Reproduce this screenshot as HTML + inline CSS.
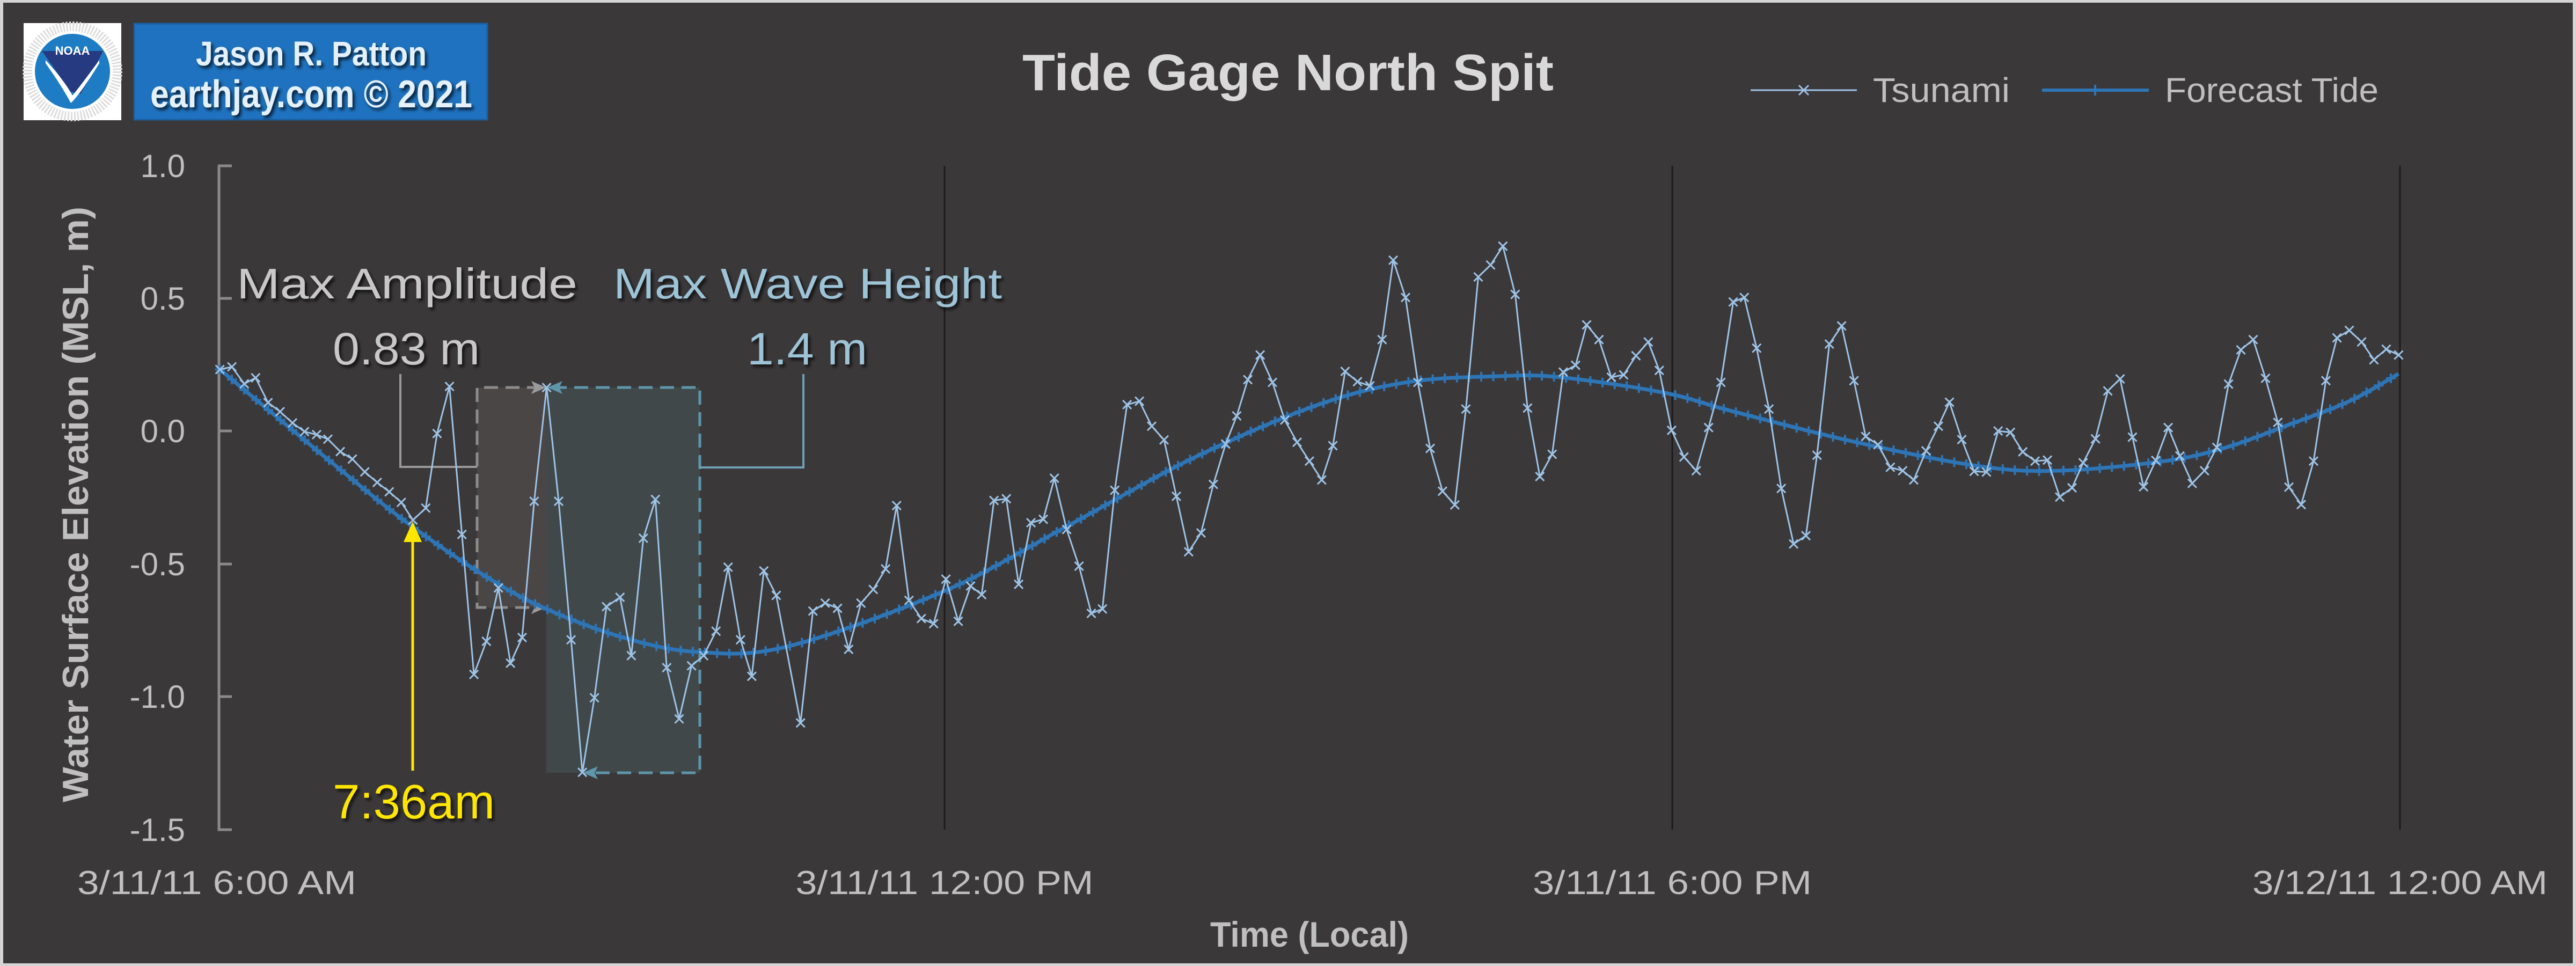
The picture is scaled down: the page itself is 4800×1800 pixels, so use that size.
<!DOCTYPE html>
<html><head><meta charset="utf-8"><style>
html,body{margin:0;padding:0;background:#3b3839;}
svg{display:block;}
text{font-family:"Liberation Sans",sans-serif;}
</style></head><body>
<svg id="s" width="4800" height="1800" viewBox="0 0 4800 1800" xmlns="http://www.w3.org/2000/svg">
<defs>
<filter id="sh" x="-10%" y="-10%" width="130%" height="140%"><feDropShadow dx="4" dy="5" stdDeviation="3" flood-color="#000" flood-opacity="0.7"/></filter>
</defs>
<rect x="0" y="0" width="4800" height="1800" fill="#d4d4d4"/>
<rect x="6" y="5" width="4788" height="1790" fill="#3b3839"/>

<!-- NOAA logo -->
<rect x="44" y="43" width="182" height="181" fill="#ffffff"/>
<circle cx="135" cy="133" r="70" fill="#1d7cc4"/>
<path d="M78 95 L192 95 L165 150 L150 175 L128 170 L110 140 Z" fill="#253a80"/>
<path d="M85 112 Q120 150 135 178 Q150 160 185 112 L185 118 Q150 175 132 192 Q115 160 85 118 Z" fill="#fff"/>
<text x="135" y="102" font-size="22" font-weight="bold" fill="#fff" text-anchor="middle">NOAA</text>
<circle cx="135" cy="133" r="84" fill="none" stroke="#ddd" stroke-width="18" stroke-dasharray="3 3"/>

<!-- Name box -->
<rect x="250" y="44" width="658" height="179" fill="#1e72bf" stroke="#1a5fa0" stroke-width="3"/>
<text x="580" y="122" font-size="64" font-weight="bold" fill="#e4f0fa" text-anchor="middle" textLength="430" lengthAdjust="spacingAndGlyphs" filter="url(#sh)">Jason R. Patton</text>
<text x="580" y="200" font-size="72" font-weight="bold" fill="#e4f0fa" text-anchor="middle" textLength="600" lengthAdjust="spacingAndGlyphs" filter="url(#sh)">earthjay.com © 2021</text>

<!-- Title -->
<text x="2400" y="168" font-size="96" font-weight="bold" fill="#d9d9d9" text-anchor="middle" textLength="990" lengthAdjust="spacingAndGlyphs">Tide Gage North Spit</text>

<!-- Legend -->
<line x1="3262" y1="168" x2="3460" y2="168" stroke="#9dc3e6" stroke-width="3"/>
<path d="M3352 159 L3370 177 M3370 159 L3352 177" stroke="#9dc3e6" stroke-width="3"/>
<text x="3490" y="190" font-size="64" fill="#bfbfbf" textLength="255" lengthAdjust="spacingAndGlyphs">Tsunami</text>
<line x1="3805" y1="168" x2="4004" y2="168" stroke="#2e75b6" stroke-width="6"/>
<path d="M3904 158 L3904 178 M3894 168 L3914 168" stroke="#2e75b6" stroke-width="4"/>
<text x="4034" y="190" font-size="64" fill="#bfbfbf" textLength="398" lengthAdjust="spacingAndGlyphs">Forecast Tide</text>

<!-- gridlines -->
<g stroke="#1c1a1a" stroke-width="3">
<line x1="1760" y1="309" x2="1760" y2="1546"/>
<line x1="3116" y1="309" x2="3116" y2="1546"/>
<line x1="4472" y1="309" x2="4472" y2="1546"/>
</g>
<!-- y axis -->
<g stroke="#8a8a8a" stroke-width="5">
<line x1="408" y1="309" x2="408" y2="1548"/>
<line x1="406" y1="309" x2="432" y2="309"/>
<line x1="406" y1="556" x2="432" y2="556"/>
<line x1="406" y1="803" x2="432" y2="803"/>
<line x1="406" y1="1051" x2="432" y2="1051"/>
<line x1="406" y1="1298" x2="432" y2="1298"/>
<line x1="406" y1="1546" x2="432" y2="1546"/>
</g>
<g font-size="60" fill="#bfbfbf" text-anchor="end">
<text x="345" y="330">1.0</text>
<text x="345" y="577">0.5</text>
<text x="345" y="824">0.0</text>
<text x="345" y="1072">-0.5</text>
<text x="345" y="1319">-1.0</text>
<text x="345" y="1567">-1.5</text>
</g>
<g font-size="62" fill="#bfbfbf" text-anchor="middle">
<text x="404" y="1666" textLength="520" lengthAdjust="spacingAndGlyphs">3/11/11 6:00 AM</text>
<text x="1760" y="1666" textLength="555" lengthAdjust="spacingAndGlyphs">3/11/11 12:00 PM</text>
<text x="3116" y="1666" textLength="520" lengthAdjust="spacingAndGlyphs">3/11/11 6:00 PM</text>
<text x="4472" y="1666" textLength="550" lengthAdjust="spacingAndGlyphs">3/12/11 12:00 AM</text>
</g>
<text x="2440" y="1764" font-size="66" font-weight="bold" fill="#bfbfbf" text-anchor="middle" textLength="370" lengthAdjust="spacingAndGlyphs">Time (Local)</text>
<text transform="translate(164,940) rotate(-90)" font-size="68" font-weight="bold" fill="#bfbfbf" text-anchor="middle" textLength="1110" lengthAdjust="spacingAndGlyphs">Water Surface Elevation (MSL, m)</text>

<!-- annotation boxes -->
<rect x="889" y="722" width="129" height="410" fill="#4d4848" opacity="0.9"/>
<rect x="1018" y="722" width="286" height="718" fill="#434a4d" opacity="0.9"/>
<path d="M1008 722 L889 722 L889 1132 L1008 1132" fill="none" stroke="#8c8c8c" stroke-width="5" stroke-dasharray="26 14"/>
<path d="M1030 722 L1304 722 L1304 1440 L1090 1440" fill="none" stroke="#5e96aa" stroke-width="5" stroke-dasharray="26 14"/>
<path d="M1018 722 L990 710 L996 722 L990 734 Z" fill="#9a9a9a"/>
<path d="M1018 1132 L990 1120 L996 1132 L990 1144 Z" fill="#9a9a9a"/>
<path d="M1020 722 L1048 710 L1042 722 L1048 734 Z" fill="#5e96aa"/>
<path d="M1086 1440 L1114 1428 L1108 1440 L1114 1452 Z" fill="#5e96aa"/>
<path d="M746 697 L746 870 L889 870" fill="none" stroke="#9a9a9a" stroke-width="4"/>
<path d="M1304 871 L1497 871 L1497 697" fill="none" stroke="#6fa0b5" stroke-width="4"/>

<g id="series"></g>

<!-- yellow arrow -->
<line x1="769" y1="1436" x2="769" y2="1000" stroke="#ffe600" stroke-width="5"/>
<path d="M769 972 L752 1010 L786 1010 Z" fill="#ffe600"/>

<!-- annotation text -->
<text x="441" y="556" font-size="80" fill="#c8c8c8" textLength="635" lengthAdjust="spacingAndGlyphs" filter="url(#sh)">Max Amplitude</text>
<text x="1143" y="556" font-size="80" fill="#9dc3d7" textLength="724" lengthAdjust="spacingAndGlyphs" filter="url(#sh)">Max Wave Height</text>
<text x="620" y="679" font-size="84" fill="#c8c8c8" textLength="274" lengthAdjust="spacingAndGlyphs" filter="url(#sh)">0.83 m</text>
<text x="1392" y="679" font-size="84" fill="#9dc3d7" textLength="224" lengthAdjust="spacingAndGlyphs" filter="url(#sh)">1.4 m</text>
<text x="620" y="1525" font-size="90" fill="#ffe600" textLength="302" lengthAdjust="spacingAndGlyphs" filter="url(#sh)">7:36am</text>
</svg>
<script>
(function(){
var NS="http://www.w3.org/2000/svg";
function z2(a){return a.map(function(p){return [350+p[0]*0.7015,450+p[1]*0.7015];});}
function z3(a){return a.map(function(p){return [1300+p[0]/0.8711,400+p[1]/1.568];});}
function z4(a){return a.map(function(p){return [3000+p[0]/0.8711,400+p[1]/1.568];});}
var t2=[[85,340],[117,333],[150,378],[180,362],[213,428],[245,452],[278,482],[310,505],[342,513],[372,525],[405,558],[437,578],[470,612],[503,640],[535,665],[567,693],[598,740],[632,708],[662,510],[695,385],[728,778],[760,1150],[793,1062],[825,920],[857,1120],[888,1052],[920,690],[953,388],[985,690],[1018,1058],[1048,1410],[1080,1212],[1112,970],[1148,945],[1178,1100],[1210,788],[1242,685],[1272,1132],[1305,1268],[1338,1127],[1370,1100],[1403,1035],[1435,865],[1468,1058],[1498,1155],[1530,875],[1563,940]];
var t3=[[167,1485],[187,1158],[207,1135],[227,1150],[245,1270],[265,1135],[285,1095],[305,1035],[323,850],[343,1127],[363,1180],[383,1195],[403,1065],[423,1188],[443,1085],[461,1110],[481,835],[501,830],[521,1080],[541,900],[561,890],[579,770],[599,920],[619,1027],[639,1165],[657,1152],[677,805],[697,555],[717,545],[737,618],[757,658],[777,823],[797,985],[817,930],[837,788],[857,670],[875,588],[893,482],[913,410],[933,490],[953,600],[973,665],[993,720],[1013,775],[1031,675],[1051,458],[1071,488],[1091,500],[1111,365],[1129,133],[1149,242],[1169,490],[1189,683],[1209,808],[1229,848],[1247,568],[1267,182],[1287,147],[1307,92],[1327,233],[1347,565],[1367,765],[1387,700],[1405,460],[1425,440],[1443,322],[1463,365],[1483,475],[1503,468],[1523,412],[1543,372]];
var t4=[[80,455],[100,630],[120,708],[140,748],[160,622],[180,490],[200,255],[218,242],[238,390],[258,568],[278,800],[298,962],[318,938],[336,703],[356,378],[376,325],[396,485],[415,648],[435,672],[455,738],[475,748],[493,775],[513,690],[533,618],[551,548],[571,657],[591,750],[611,752],[630,632],[650,636],[670,693],[690,720],[710,717],[730,825],[750,798],[768,725],[788,655],[808,515],[828,480],[848,650],[866,795],[886,718],[906,622],[925,705],[945,785],[965,748],[985,680],[1004,495],[1024,395],[1044,365],[1064,478],[1084,607],[1102,796],[1122,847],[1142,720],[1162,485],[1180,360],[1200,338],[1220,372],[1240,424],[1260,393],[1280,410]];
var ts=z2(t2).concat(z3(t3)).concat(z4(t4));
var f2=[[85,340],[410,610],[600,760],[800,895],[950,975],[1150,1050],[1350,1090]];
var f3=[[145,1262],[400,1100],[600,910],[800,715],[1000,560],[1150,490],[1300,472],[1400,475],[1568,520]];
var f4=[[200,575],[400,665],[600,735],[730,748],[900,720],[1000,680],[1100,615],[1200,545],[1280,465]];
var fc=z2(f2).concat(z3(f3)).concat(z4(f4));
var dense=[];
for(var i=0;i<fc.length-1;i++){
 var p0=fc[Math.max(0,i-1)],p1=fc[i],p2=fc[i+1],p3=fc[Math.min(fc.length-1,i+2)];
 for(var k=0;k<20;k++){var t=k/20,t2_=t*t,t3_=t2_*t;
  var f=function(a,b,c,d){return 0.5*((2*b)+(-a+c)*t+(2*a-5*b+4*c-d)*t2_+(-a+3*b-3*c+d)*t3_);};
  dense.push([f(p0[0],p1[0],p2[0],p3[0]),f(p0[1],p1[1],p2[1],p3[1])]);}
}
dense.push(fc[fc.length-1]);
function yAt(x){for(var i=0;i<dense.length-1;i++){if(x>=dense[i][0]&&x<=dense[i+1][0]){var r=(x-dense[i][0])/(dense[i+1][0]-dense[i][0]||1);return dense[i][1]+r*(dense[i+1][1]-dense[i][1]);}}return dense[dense.length-1][1];}
var g=document.getElementById("series");
function el(n,a){var e=document.createElementNS(NS,n);for(var k in a)e.setAttribute(k,a[k]);g.appendChild(e);return e;}
var d="M"+dense.map(function(p){return p[0].toFixed(1)+" "+p[1].toFixed(1);}).join(" L");
el("path",{d:d,fill:"none",stroke:"#2e75b6","stroke-width":7});
var md="";
for(var x=fc[0][0];x<=fc[fc.length-1][0]+1;x+=1356/60){var y=yAt(Math.min(x,fc[fc.length-1][0]));md+="M"+x.toFixed(1)+" "+(y-9).toFixed(1)+" L"+x.toFixed(1)+" "+(y+9).toFixed(1)+" M"+(x-9).toFixed(1)+" "+y.toFixed(1)+" L"+(x+9).toFixed(1)+" "+y.toFixed(1)+" ";}
el("path",{d:md,fill:"none",stroke:"#2e75b6","stroke-width":4});
var td="M"+ts.map(function(p){return p[0].toFixed(1)+" "+p[1].toFixed(1);}).join(" L");
el("path",{d:td,fill:"none",stroke:"#9dc3e6","stroke-width":3});
var xd="";
ts.forEach(function(p){var s=8;xd+="M"+(p[0]-s)+" "+(p[1]-s)+" L"+(p[0]+s)+" "+(p[1]+s)+" M"+(p[0]+s)+" "+(p[1]-s)+" L"+(p[0]-s)+" "+(p[1]+s)+" ";});
el("path",{d:xd,fill:"none",stroke:"#9dc3e6","stroke-width":3});
})();
</script>
</body></html>
